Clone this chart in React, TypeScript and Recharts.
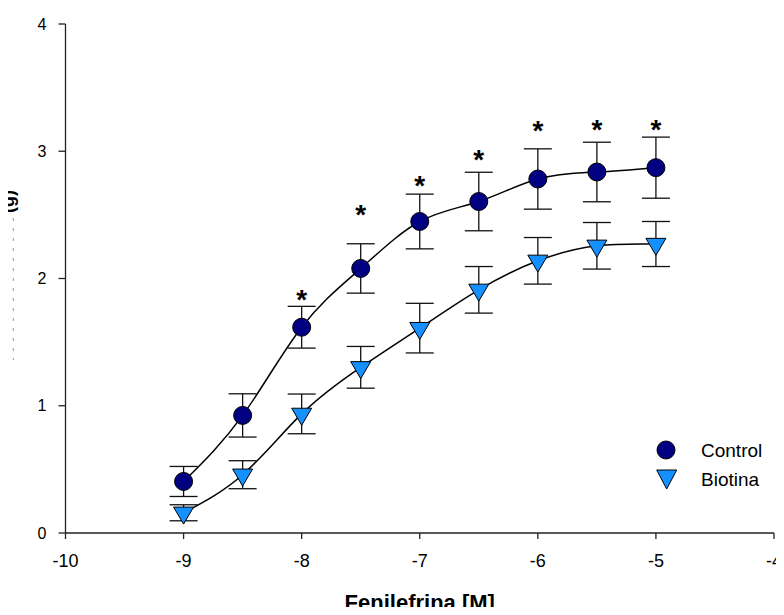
import React from "react";
import {
	ComposedChart,
	Line,
	XAxis,
	YAxis,
	ErrorBar,
	Legend
} from "recharts";

// log [fenilefrina] (M)
const conc = [-9, -8.5, -8, -7.5, -7, -6.5, -6, -5.5, -5];
const controlMean = [0.405, 0.924, 1.617, 2.079, 2.448, 2.605, 2.782, 2.837, 2.871];
const controlSem = [0.118, 0.17, 0.164, 0.194, 0.215, 0.23, 0.237, 0.234, 0.24];
const biotinaMean = [0.159, 0.458, 0.936, 1.302, 1.61, 1.911, 2.139, 2.257, 2.271];
const biotinaSem = [0.063, 0.11, 0.156, 0.164, 0.195, 0.183, 0.183, 0.183, 0.177];
// where the significance asterisks sit
const starLevel = [null, null, 1.885, 2.547, 2.775, 2.985, 3.207, 3.22, 3.22];

const xTicks = [-10, -9, -8, -7, -6, -5, -4];
const yTicks = [0, 1, 2, 3, 4];

const data = conc.map((x, i) => ({
	x,
	control: controlMean[i],
	controlErr: controlSem[i],
	biotina: biotinaMean[i],
	biotinaErr: biotinaSem[i],
	star: starLevel[i]
}));

const FONT = "'Liberation Sans', Arial, Helvetica, sans-serif";
const NAVY = "#000080";
const BLUE = "#1490ff";

const CircleDot = (props: any) => {
	const { cx, cy } = props;
	if (cx == null || cy == null) return <g />;
	return <circle cx={cx} cy={cy} r={9} fill={NAVY} stroke="#000" strokeWidth={1} />;
};

const TriangleDot = (props: any) => {
	const { cx, cy } = props;
	if (cx == null || cy == null) return <g />;
	const w = 10;
	const h = 17;
	const top = cy - h / 3;
	return (
		<polygon
			points={`${cx - w},${top} ${cx + w},${top} ${cx},${top + h}`}
			fill={BLUE}
			stroke="#000"
			strokeWidth={1}
		/>
	);
};

const StarDot = (props: any) => {
	const { cx, cy, value } = props;
	if (value == null || cy == null || cx == null) return <g />;
	const size = 28;
	return (
		<text
			x={cx}
			y={cy + size * 0.55}
			textAnchor="middle"
			fontSize={size}
			fontWeight="bold"
			fontFamily={FONT}
			fill="#000"
		>
			*
		</text>
	);
};

// the y title is almost fully blanked in the original, only a sliver shows
const PartialYLabel = () => (
	<g>
		<text
			transform="translate(5.5,182) rotate(-90)"
			textAnchor="end"
			fontSize={18}
			fontWeight="bold"
			fontFamily={FONT}
			fill="#000"
		>
			(g)
		</text>
		<line x1={5.3} y1={210} x2={5.3} y2={352} stroke="#999" strokeDasharray="3 7" />
	</g>
);

const LegendBox = () => (
	<svg width={130} height={60} style={{ display: "block" }}>
		<circle cx={13} cy={14} r={9} fill={NAVY} stroke="#000" strokeWidth={1} />
		<text x={48} y={14} dominantBaseline="central" fontSize={19} fontFamily={FONT} fill="#000">
			Control
		</text>
		<polygon points="3.7,34 23.7,34 13.7,53" fill={BLUE} stroke="#000" strokeWidth={1} />
		<text x={48} y={43} dominantBaseline="central" fontSize={19} fontFamily={FONT} fill="#000">
			Biotina
		</text>
	</svg>
);

const App = () => {
	return (
		<div style={{ fontFamily: FONT, marginBottom: -8 }}>
			<ComposedChart
				width={776}
				height={607}
				data={data}
				margin={{ top: 16, right: 10, bottom: 0, left: 0 }}
			>
				<XAxis
					dataKey="x"
					type="number"
					domain={[-10, -4]}
					ticks={xTicks}
					interval={0}
					height={82}
					tickSize={6}
					tickMargin={15}
					stroke="#222"
					strokeWidth={1.3}
					tick={{ fill: "#000", fontSize: 18, fontFamily: FONT }}
					label={{
						value: "Fenilefrina [M]",
						position: "insideBottom",
						offset: 5,
						fontSize: 22,
						fontWeight: "bold",
						fill: "#000",
						fontFamily: FONT
					}}
				/>
				<YAxis
					type="number"
					domain={[0, 4]}
					ticks={yTicks}
					interval={0}
					width={57.5}
					tickSize={7}
					tickMargin={12}
					stroke="#222"
					strokeWidth={1.3}
					tick={{ fill: "#000", fontSize: 16, fontFamily: FONT }}
					label={<PartialYLabel />}
				/>
				<Legend
					layout="horizontal"
					align="center"
					verticalAlign="middle"
					wrapperStyle={{ left: 645, top: 428, width: 130, height: 60 }}
					content={() => <LegendBox />}
				/>

				{/* markers + error bars */}
				<Line
					dataKey="control"
					stroke="none"
					dot={<CircleDot />}
					activeDot={false}
					legendType="none"
					isAnimationActive={false}
				>
					<ErrorBar dataKey="controlErr" direction="y" width={14} stroke="#111" strokeWidth={1.3} />
				</Line>
				<Line
					dataKey="biotina"
					stroke="none"
					dot={<TriangleDot />}
					activeDot={false}
					legendType="none"
					isAnimationActive={false}
				>
					<ErrorBar dataKey="biotinaErr" direction="y" width={14} stroke="#111" strokeWidth={1.3} />
				</Line>

				{/* fitted curves drawn over the markers */}
				<Line
					type="natural"
					dataKey="control"
					stroke="#000"
					strokeWidth={1.5}
					dot={false}
					activeDot={false}
					legendType="none"
					isAnimationActive={false}
				/>
				<Line
					type="natural"
					dataKey="biotina"
					stroke="#000"
					strokeWidth={1.5}
					dot={false}
					activeDot={false}
					legendType="none"
					isAnimationActive={false}
				/>

				<Line
					dataKey="star"
					stroke="none"
					dot={<StarDot />}
					activeDot={false}
					legendType="none"
					connectNulls={false}
					isAnimationActive={false}
				/>
			</ComposedChart>
		</div>
	);
};

export default App;
